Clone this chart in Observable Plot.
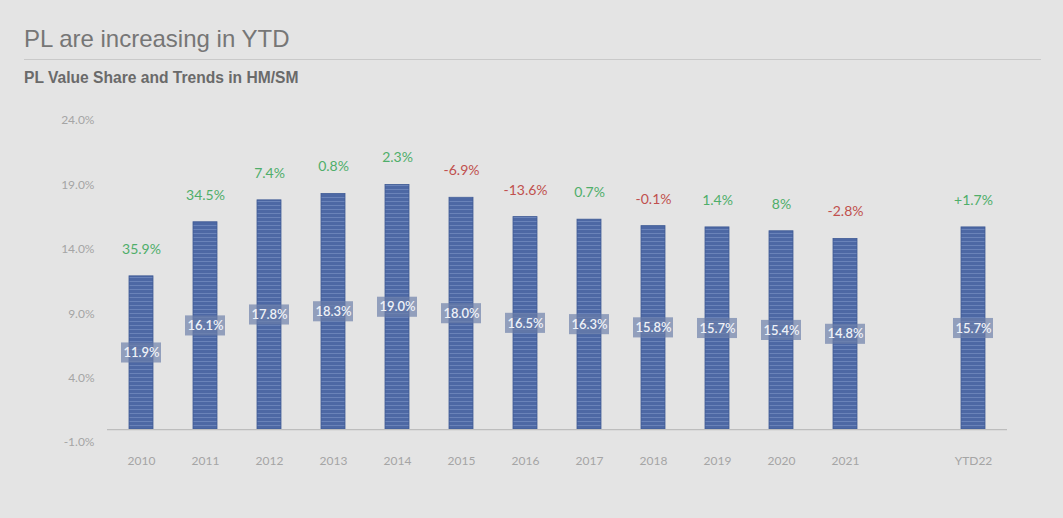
<!DOCTYPE html>
<html>
<head>
<meta charset="utf-8">
<script src="https://cdn.jsdelivr.net/npm/d3@7"></script>
<script src="https://cdn.jsdelivr.net/npm/@observablehq/plot@0.6"></script>
<style>
  html, body { margin: 0; padding: 0; background: #e4e4e4; width: 1063px; height: 518px; overflow: hidden; }
  #header { position: relative; height: 95px; }
  #title { position: absolute; left: 24px; top: 25px; font-family: "Liberation Sans", Arial, sans-serif; font-size: 24px; color: #767676; }
  #rule { position: absolute; left: 24px; right: 22px; top: 59px; border-top: 1px solid #c9c9c9; }
  #subtitle { position: absolute; left: 24px; top: 69px; font-family: "Liberation Sans", Arial, sans-serif; font-size: 15.6px; font-weight: bold; color: #6a6a6a; }
  svg { display: block; }
</style>
</head>
<body>
<div id="header">
  <div id="title">PL are increasing in YTD</div>
  <div id="rule"></div>
  <div id="subtitle">PL Value Share and Trends in HM/SM</div>
</div>
<div id="chart"></div>
<script>
const categories = ["2010","2011","2012","2013","2014","2015","2016","2017","2018","2019","2020","2021","YTD22"];
const shares = [11.9, 16.1, 17.8, 18.3, 19.0, 18.0, 16.5, 16.3, 15.8, 15.7, 15.4, 14.8, 15.7];
const growthLabels = ["35.9%","34.5%","7.4%","0.8%","2.3%","-6.9%","-13.6%","0.7%","-0.1%","1.4%","8%","-2.8%","+1.7%"];
const yTicks = [-1, 4, 9, 14, 19, 24];

const gap = " ";
const domain = [...categories.slice(0, 12), gap, categories[12]];

const data = categories.map((c, i) => ({
  cat: c,
  share: shares[i],
  growth: growthLabels[i],
  neg: growthLabels[i].startsWith("-")
}));

const font = "Lato, 'Open Sans', sans-serif";

const chart = Plot.plot({
  width: 1063,
  height: 423,
  marginLeft: 107,
  marginRight: 56,
  marginTop: 25,
  marginBottom: 76,
  style: { background: "transparent", fontFamily: font, fontSize: "12px", color: "#a5a5a5" },
  x: { domain, paddingInner: 0.627, paddingOuter: 0.3135, label: null },
  y: { domain: [-1, 24], label: null },
  marks: [
    Plot.axisY({ ticks: yTicks, tickFormat: d => d.toFixed(1) + "%", tickSize: 0, tickPadding: 13, fill: "#a5a5a5", fontSize: 12 }),
    Plot.axisX({ tickSize: 0, tickPadding: 14, fill: "#a5a5a5", fontSize: 12, tickFormat: d => d === gap ? "" : d }),
    Plot.barY(data, { x: "cat", y: "share", fill: "url(#stripes)", stroke: "#3f5a94", strokeWidth: 0.8 }),
    Plot.ruleY([0], { stroke: "#bdbdbd", strokeWidth: 1.2 }),
    Plot.barY(data, {
      x: "cat",
      y1: d => d.share / 2 - 0.78,
      y2: d => d.share / 2 + 0.78,
      insetLeft: -8, insetRight: -8,
      fill: "#6c7fa9", fillOpacity: 0.68
    }),
    Plot.text(data, { x: "cat", y: d => d.share / 2, text: d => d.share.toFixed(1) + "%", fill: "#eef1f7", fontSize: 13, fontWeight: 600, fontFamily: font }),
    Plot.text(data, { x: "cat", y: "share", dy: -27, text: "growth", fill: d => d.neg ? "#c0504d" : "#4fae6a", fontSize: 14, fontFamily: font })
  ]
});

// striped fill pattern for bars
const ns = "http://www.w3.org/2000/svg";
const defs = document.createElementNS(ns, "defs");
defs.innerHTML = `
  <pattern id="stripes" patternUnits="userSpaceOnUse" width="8" height="4">
    <rect width="8" height="4" fill="#4d68a4"></rect>
    <rect y="2" width="8" height="1" fill="#6a83b9"></rect>
  </pattern>`;
chart.insertBefore(defs, chart.firstChild);

document.getElementById("chart").appendChild(chart);
</script>
</body>
</html>
